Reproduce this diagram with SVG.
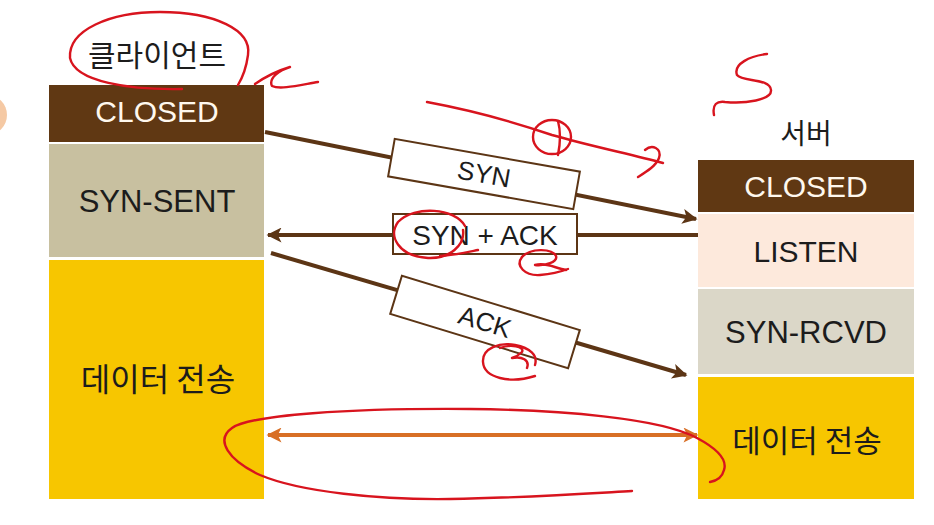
<svg xmlns="http://www.w3.org/2000/svg" width="934" height="525" viewBox="0 0 934 525">
<defs>
<style>
.lat{font-family:"Liberation Sans","Noto Sans",Arial,sans-serif;text-anchor:middle}
.kr{font-family:"Noto Sans CJK KR","Noto Sans",sans-serif;text-anchor:middle}
.dark{fill:#1c1c1c}
.light{fill:#fff8ee}
.closed{fill:#603813}
.sent{fill:#c8c0a0}
.data{fill:#f7c600}
.listen{fill:#fde9dc}
.rcvd{fill:#dbd7c8}
.conn{stroke:#5c3515;stroke-width:4;fill:none}
.lbl{fill:#ffffff;stroke:#5c3515;stroke-width:2}
.pen{fill:none;stroke:#d8141e;stroke-width:2.4;stroke-linecap:round;stroke-linejoin:round}
</style>
<marker id="ah" viewBox="0 0 10 10" refX="9" refY="5" markerWidth="18" markerHeight="15" markerUnits="userSpaceOnUse" orient="auto-start-reverse">
<path d="M0,0 L10,5 L0,10 L2.5,5 z" fill="#5c3515"/>
</marker>
<marker id="ao" viewBox="0 0 10 10" refX="9" refY="5" markerWidth="18" markerHeight="15" markerUnits="userSpaceOnUse" orient="auto-start-reverse">
<path d="M0,0 L10,5 L0,10 L2.5,5 z" fill="#d86f25"/>
</marker>
</defs>
<rect width="934" height="525" fill="#ffffff"/>
<circle cx="-13" cy="115" r="20" fill="#f5c9a4"/>

<g id="client">
<text class="kr dark" x="157" y="66" font-size="30">클라이언트</text>
<g id="client-closed"><rect class="closed" x="49" y="85" width="215" height="57"/><text class="lat light" x="157" y="122" font-size="30">CLOSED</text></g>
<g id="client-synsent"><rect class="sent" x="49" y="144" width="215" height="113"/><text class="lat dark" x="157" y="212" font-size="31">SYN-SENT</text></g>
<g id="client-data"><rect class="data" x="49" y="260" width="215" height="239"/><text class="kr dark" x="158" y="391" font-size="32">데이터 전송</text></g>
</g>

<g id="server">
<text class="kr dark" x="806" y="144" font-size="28">서버</text>
<g id="server-closed"><rect class="closed" x="698" y="160" width="216" height="52"/><text class="lat light" x="806" y="197" font-size="30">CLOSED</text></g>
<g id="server-listen"><rect class="listen" x="698" y="214" width="216" height="73"/><text class="lat dark" x="806" y="262" font-size="30">LISTEN</text></g>
<g id="server-rcvd"><rect class="rcvd" x="698" y="289" width="216" height="85"/><text class="lat dark" x="806" y="343" font-size="31">SYN-RCVD</text></g>
<g id="server-data"><rect class="data" x="698" y="377" width="216" height="122"/><text class="kr dark" x="807" y="452" font-size="31">데이터 전송</text></g>
</g>

<g id="connectors">
<line class="conn" x1="265" y1="132" x2="696" y2="219" marker-end="url(#ah)"/>
<line class="conn" x1="698" y1="235" x2="268" y2="235" marker-end="url(#ah)"/>
<line class="conn" x1="271" y1="253" x2="686" y2="375" marker-end="url(#ah)"/>
<line x1="268" y1="435" x2="697" y2="435" stroke="#d86f25" stroke-width="4" marker-start="url(#ao)" marker-end="url(#ao)"/>
<g id="label-syn" transform="rotate(10 484 174)"><rect class="lbl" x="390" y="155" width="188" height="38"/><text class="lat dark" x="484" y="183" font-size="26">SYN</text></g>
<g id="label-synack"><rect class="lbl" x="393" y="214" width="184" height="40"/><text class="lat dark" x="485" y="245" font-size="28">SYN + ACK</text></g>
<g id="label-ack" transform="rotate(17 485 322)"><rect class="lbl" x="392" y="302" width="186" height="40"/><text class="lat dark" x="485" y="331" font-size="26">ACK</text></g>
</g>

<g id="annotations">
<path class="pen" d="M182,89 C130,90 75,82 70,58 C68,30 110,12 160,12 C215,12 252,30 248,55 C246,70 241,80 238,85"/>
<path class="pen" d="M255,84 C265,77 280,70 290,67 C280,70 268,78 272,86 C280,90 300,85 318,82"/>
<path class="pen" d="M767,54 C750,56 733,64 737,75 C742,82 770,78 771,90 C772,100 745,104 725,102 C717,101 712,104 714,115"/>
<path class="pen" d="M427,102 C470,110 520,124 552,135 C590,146 630,154 663,163"/>
<ellipse class="pen" cx="552" cy="137" rx="19" ry="17"/>
<path class="pen" d="M558,121 C561,132 560,145 558,155"/>
<path class="pen" d="M645,150 C652,144 662,148 659,158 C656,166 646,172 638,177"/>
<path class="pen" d="M465,226 C455,208 415,205 398,222 C388,236 398,256 428,258 C450,259 465,245 463,230"/>
<path class="pen" d="M440,256 C455,255 468,252 478,250"/>
<path class="pen" d="M522,257 C530,248 552,248 556,256 C558,262 545,266 535,265 C545,262 555,268 566,270"/>
<path class="pen" d="M522,257 C515,266 525,276 540,275 C552,274 560,272 568,269"/>
<path class="pen" d="M535,376 C510,384 484,378 483,362 C482,348 500,342 515,345 C530,348 538,355 535,365"/>
<path class="pen" d="M500,348 C510,344 525,346 522,352 C518,356 512,358 512,358 C522,356 530,360 527,368"/>
<path class="pen" d="M632,491 C580,494 520,498 450,499 C380,500 300,492 260,475 C228,460 215,440 232,428 C250,415 350,408 470,409 C560,410 660,418 697,438 C712,446 728,458 724,470 C722,478 716,481 710,482"/>
</g>
</svg>
